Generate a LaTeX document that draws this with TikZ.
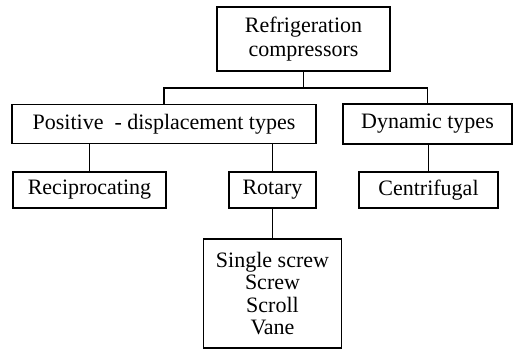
\documentclass[tikz,border=0pt]{standalone}
\usepackage{fontspec}
\setmainfont{Liberation Serif}
\begin{document}
\begin{tikzpicture}[x=1pt,y=-1pt,
  box/.style={draw,line width=1.3pt,inner sep=0pt,align=center,font=\fontsize{22}{24}\selectfont},
  conn/.style={line width=1.3pt}]
\useasboundingbox (0,0) rectangle (514,353);
\node[box,minimum width=173pt,minimum height=64pt] (top) at (303.5,39) {Refrigeration\\compressors};
\node[box,minimum width=304pt,minimum height=39pt] (pos) at (164,124) {Positive \ - displacement types};
\node[box,minimum width=169pt,minimum height=40pt] (dyn) at (427.5,124) {Dynamic types};
\node[box,minimum width=153pt,minimum height=36pt] (rec) at (89.5,190) {Reciprocating};
\node[box,minimum width=87pt,minimum height=36pt] (rot) at (272.5,190) {Rotary};
\node[box,minimum width=139pt,minimum height=36pt] (cen) at (428.5,190) {Centrifugal};
\node[box,minimum width=138pt,minimum height=109pt,font=\fontsize{22}{22.5}\selectfont] (bot) at (272.5,293.5) {Single screw\\Screw\\Scroll\\Vane};
\coordinate (j) at (303.5,88);
\draw[conn] (top.south) -- (j);
\draw[conn] (j) -| (pos.north);
\draw[conn] (j) -| (dyn.north);
\draw[conn] (rec.north |- pos.south) -- (rec.north);
\draw[conn] (rot.north |- pos.south) -- (rot.north);
\draw[conn] (cen.north |- dyn.south) -- (cen.north);
\draw[conn] (rot.south) -- (bot.north);
\end{tikzpicture}
\end{document}
